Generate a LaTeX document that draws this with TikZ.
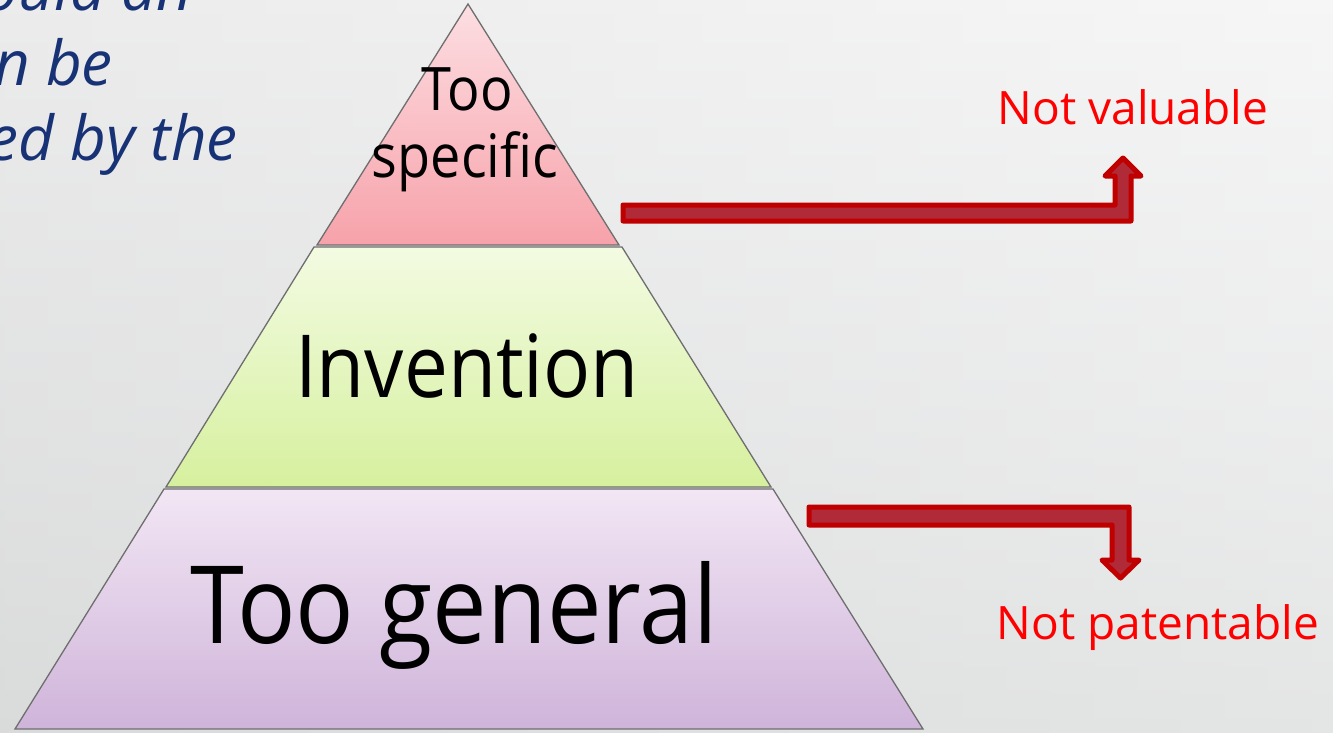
\documentclass[tikz,border=0pt]{standalone}
\usepackage{fontspec}
\setmainfont{Open Sans}
\usetikzlibrary{calc}
\definecolor{bgtop}{RGB}{242,242,243}
\definecolor{bgbot}{RGB}{214,216,216}
\definecolor{navy}{RGB}{24,50,118}
\definecolor{pinkT}{RGB}{252,222,226}
\definecolor{pinkB}{RGB}{247,162,170}
\definecolor{greenT}{RGB}{243,251,226}
\definecolor{greenB}{RGB}{214,240,158}
\definecolor{lavT}{RGB}{242,230,244}
\definecolor{lavB}{RGB}{207,180,218}
\definecolor{arrowfill}{RGB}{176,42,56}
\definecolor{arrowline}{RGB}{192,0,0}
\definecolor{edge}{RGB}{110,110,110}
\newcommand{\narrowtext}[1]{\scalebox{0.9}[1]{#1}}
\begin{document}
\begin{tikzpicture}[x=1pt,y=-1pt,
  layer/.style={draw=edge,line width=1.3pt,line join=miter},
  bigtext/.style={anchor=base,inner sep=0pt,text=black},
  redlabel/.style={anchor=base,inner sep=0pt,text=red,font=\fontsize{46}{50}\selectfont},
  blockarrow/.style={fill=arrowfill,draw=arrowline,line width=5pt,line join=round},
  bgtext/.style={anchor=base east,inner sep=0pt,text=navy,font=\fontsize{62}{70}\selectfont\itshape}]
\useasboundingbox (0,0) rectangle (1333,732);
\clip (0,0) rectangle (1333,732);
% background
\shade[top color=bgtop,bottom color=bgbot] (0,0) rectangle (1333,732);
\shade[left color=black!12,right color=white,opacity=0.35] (0,0) rectangle (1333,732);
% clipped slide text behind
\node[bgtext] (l1) at (193,10) {ould an};
\node[bgtext] (l2) at (113,85) {n be};
\node[bgtext] (l3) at (238,160) {ed by the};
% pyramid coordinates
\coordinate (apex) at (468,4);
\coordinate (tl) at (317,245);
\coordinate (tr) at (619,245);
\coordinate (ml) at (314,247);
\coordinate (mr) at (622,247);
\coordinate (bl) at (166,487);
\coordinate (br) at (771,487);
\coordinate (cl) at (164,489);
\coordinate (cr) at (773,489);
\coordinate (baseL) at (15,729);
\coordinate (baseR) at (923,729);
% layers
\shade[top color=lavT,bottom color=lavB] (cl) -- (cr) -- (baseR) -- (baseL) -- cycle;
\draw[layer] (cl) -- (cr) -- (baseR) -- (baseL) -- cycle;
\shade[top color=greenT,bottom color=greenB] (ml) -- (mr) -- (br) -- (bl) -- cycle;
\draw[layer] (ml) -- (mr) -- (br) -- (bl) -- cycle;
\shade[top color=pinkT,bottom color=pinkB] (apex) -- (tr) -- (tl) -- cycle;
\draw[layer] (apex) -- (tr) -- (tl) -- cycle;
% layer labels
\node[bigtext,font=\fontsize{60}{66}\selectfont] (too) at (467,110) {\narrowtext{Too}};
\node[bigtext,font=\fontsize{60}{66}\selectfont] (spec) at (465,177) {\narrowtext{specific}};
\node[bigtext,font=\fontsize{87}{95}\selectfont] (inv) at (467,397) {\narrowtext{Invention}};
\node[bigtext,font=\fontsize{108}{118}\selectfont] (gen) at (454,643) {\narrowtext{Too general}};
% right labels
\node[redlabel] (nv) at (1133,124) {Not valuable};
\node[redlabel] (np) at (1158,639) {Not patentable};
% bent block arrows
\draw[blockarrow] (623,205) -- (1115,205) -- (1115,176) -- (1105,176) -- (1123,158)
  -- (1141,176) -- (1131,176) -- (1131,221) -- (623,221) -- cycle;
\draw[blockarrow] (809,507) -- (1129,507) -- (1129,560) -- (1139,560) -- (1120.5,578)
  -- (1102,560) -- (1112,560) -- (1112,525) -- (809,525) -- cycle;
\end{tikzpicture}
\end{document}
